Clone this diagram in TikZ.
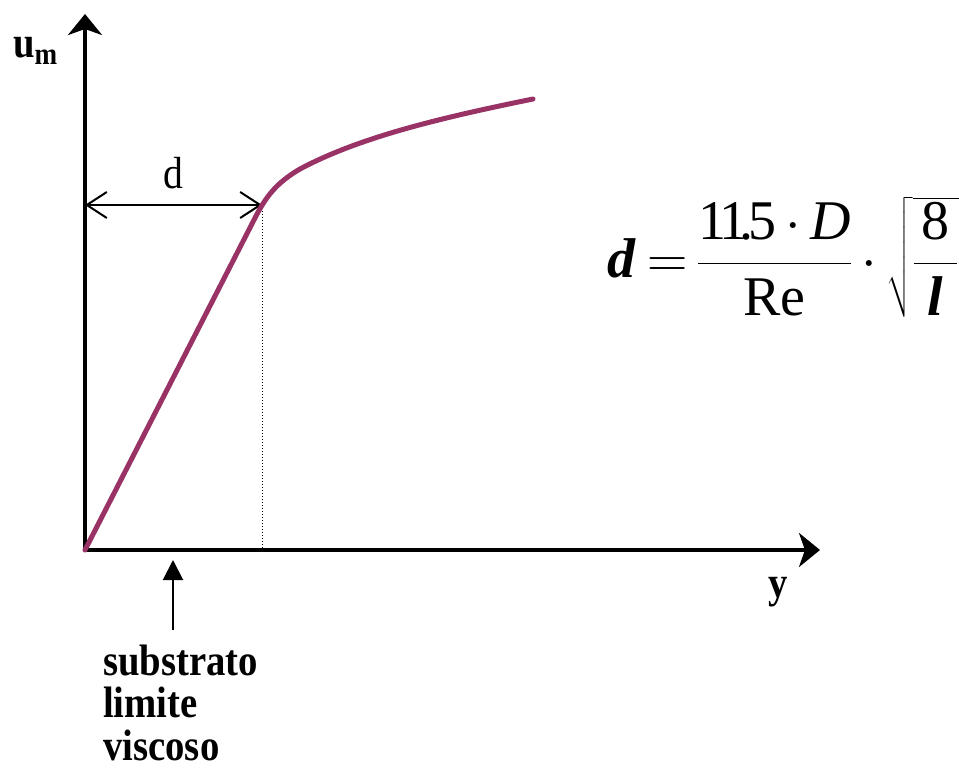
\RequirePackage{fix-cm}
\documentclass[tikz,border=0pt]{standalone}
\usepackage{amsmath}
\usepackage{fontspec}
\setmainfont{Liberation Serif}[FakeStretch=0.88]
\newfontfamily\eqfont{Liberation Serif}
\usepackage{tikz}
\usetikzlibrary{
  arrows.meta
}
\definecolor{ink}{HTML}{000000}
\definecolor{plum}{HTML}{993366}
\newcommand{\eqtxt}[1]{\text{\eqfont #1}}
\newcommand{\eqsym}[1]{\text{\eqfont\bfseries\itshape #1}}
\tikzset{
  axis/.style={
    -{Stealth[length=21pt,width=34pt,inset=6pt]},
    line width=4pt,
    draw=ink
  },
  profile/.style={
    draw=plum,
    line width=5pt,
    line cap=round,
    line join=round
  },
  span/.style={
    {Straight Barb[length=20pt,width=26pt]}-{Straight Barb[length=20pt,width=26pt]},
    line width=2pt,
    draw=ink
  },
  pointer/.style={
    -{Triangle[length=20pt,width=20pt]},
    line width=2pt,
    draw=ink
  },
  guide/.style={
    draw=ink,
    dotted,
    line width=1pt
  },
  axislabel/.style={
    inner sep=0pt,
    font=\bfseries\fontsize{44}{42.5}\selectfont
  },
  formula/.style={
    inner sep=0pt,
    font=\fontsize{56}{62}\selectfont
  }
}

\begin{document}
\begin{tikzpicture}[x=1pt, y=-1pt]
  \useasboundingbox (0,0) rectangle (959,770);

  % axes
  \coordinate (O) at (85,550);
  \coordinate (ytip) at (85,14);
  \coordinate (xtip) at (820,550);
  \draw[axis] (O) -- (ytip);
  \draw[axis] (O) -- (xtip);
  \node[axislabel, anchor=base west] (um) at (13,58) {u\textsubscript{m}};
  \node[axislabel, anchor=base] (ylab) at (778,597) {y};

  % velocity profile
  \coordinate (knee) at (262,205);
  \coordinate (foot) at (262,550);
  \coordinate (dleft) at (85,205);
  \draw[guide] (knee) -- (foot);
  \draw[span] (dleft) -- (knee)
    node[midway, above=15pt, inner sep=0pt, font=\fontsize{45}{50}\selectfont] (dlab) {d};
  \draw[profile] (O) -- (256,216)
    .. controls (266,197) and (276,183) .. (300,169)
    .. controls (360,137) and (440,118) .. (533,99);

  % viscous sublayer
  \node[axislabel, align=left, anchor=base west] (layer) at (103,760)
    {substrato\\limite\\viscoso};
  \coordinate (ptail) at (173,630);
  \coordinate (phead) at (173,560);
  \draw[pointer] (ptail) -- (phead);

  \node[formula, anchor=base west] (eq) at (607,277)
    {$\eqsym{d}\mkern4mu{=}\mkern3mu\dfrac{\eqtxt{1\kern-.12em1\kern-.14em.\kern-.1em5}\mkern3mu{\cdot}\mkern3mu\eqtxt{\itshape D}}{\eqtxt{Re}}\,{\cdot}\,\sqrt{\dfrac{\mkern2.5mu\eqtxt{8}\mkern2.5mu}{\eqsym{l}}}$};
\end{tikzpicture}
\end{document}
